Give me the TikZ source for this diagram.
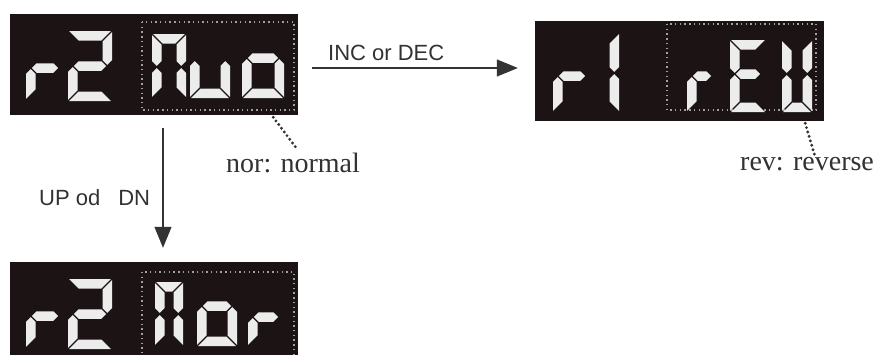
\documentclass[tikz,border=0pt]{standalone}
\usepackage{fontspec}
\setmainfont{Liberation Serif}
\newfontfamily\sansf{Liberation Sans}
\usetikzlibrary{arrows.meta}
\definecolor{boxbg}{RGB}{28,20,20}
\definecolor{segcol}{RGB}{236,236,236}
\definecolor{dotcol}{RGB}{160,160,160}
\definecolor{txt}{RGB}{50,50,50}
\def\T{9.5}\def\G{1.2}
\newcommand\Sega{\fill[seg] (\G,0) -- (\W-\G,0) -- (\W-\T-\G,\T) -- (\T+\G,\T) -- cycle;}
\newcommand\Segd{\fill[seg] (\G,\H) -- (\W-\G,\H) -- (\W-\T-\G,\H-\T) -- (\T+\G,\H-\T) -- cycle;}
\newcommand\Segf{\fill[seg] (0,\G) -- (\T,\T+\G) -- (\T,\M-\T/2-\G) -- (\T/2,\M-\G) -- (0,\M-\T/2-\G) -- cycle;}
\newcommand\Sege{\fill[seg] (0,\H-\G) -- (\T,\H-\T-\G) -- (\T,\M+\T/2+\G) -- (\T/2,\M+\G) -- (0,\M+\T/2+\G) -- cycle;}
\newcommand\Segb{\fill[seg] (\W,\G) -- (\W-\T,\T+\G) -- (\W-\T,\M-\T/2-\G) -- (\W-\T/2,\M-\G) -- (\W,\M-\T/2-\G) -- cycle;}
\newcommand\Segc{\fill[seg] (\W,\H-\G) -- (\W-\T,\H-\T-\G) -- (\W-\T,\M+\T/2+\G) -- (\W-\T/2,\M+\G) -- (\W,\M+\T/2+\G) -- cycle;}
\newcommand\Segg{\fill[seg] (\T/2+\G,\M) -- (\T+\G,\M-\T/2) -- (\W-\T-\G,\M-\T/2) -- (\W-\T/2-\G,\M) -- (\W-\T-\G,\M+\T/2) -- (\T+\G,\M+\T/2) -- cycle;}
\newcommand\sseg[6]{%
  \begin{scope}[shift={(#1,#2)}]
    \def\W{#3}\def\H{#4}\def\M{#5}%
    \foreach \s in {#6}{\csname Seg\s\endcsname}
  \end{scope}}
\begin{document}
\begin{tikzpicture}[x=1pt,y=-1pt,
  seg/.style={fill=segcol},
  box/.style={fill=boxbg, draw=none, inner sep=0, minimum width=288, minimum height=101},
  dotbox/.style={draw=dotcol, line width=1.4pt, dash pattern=on 1.4pt off 3.3pt},
  arr/.style={-{Triangle[length=21pt,width=17pt]}, line width=1.1pt, draw=black!80, fill=black!80},
  lead/.style={draw=black!80, line width=3.2pt, line cap=round, dash pattern=on 0pt off 4.6pt},
  sanslab/.style={anchor=base west, inner sep=0, font=\sansf\fontsize{22}{26}\selectfont, text=txt},
  seriflab/.style={anchor=base west, inner sep=0, font=\fontsize{28}{32}\selectfont, text=txt}]
\useasboundingbox (0,0) rectangle (874,354);
\clip (0,0) rectangle (874,354);
\fill[white] (0,0) rectangle (874,354);
% boxes
\node[box] (b1) at (154,64.5) {};
\node[box, minimum width=289, minimum height=100] (b2) at (679.5,71) {};
\node[box] (b3) at (154,312.5) {};
% dotted inner frames
\draw[dotbox] (142,22) rectangle (294,110);
\draw[dotbox] (667,24) rectangle (816,110);
\draw[dotbox] (142,272) rectangle (294,362);
% box 1 : r2 Auo
\sseg{26}{32}{38}{68}{36}{e,g}
\sseg{68}{31}{44}{70}{35}{a,b,g,e,d}
\sseg{152}{34}{34}{64}{33}{a,b,c,e,f}
\sseg{190}{34}{40}{64}{26}{c,d,e}
\sseg{242}{34}{42}{64}{24}{c,d,e,g}
% box 2 : r1 rEU
\sseg{553}{40}{38}{72}{36}{e,g}
\sseg{581}{33}{38}{79}{40}{b,c}
\sseg{687}{40}{30}{72}{36}{e,g}
\sseg{730}{40}{36}{72}{34}{a,d,e,f,g}
\sseg{782}{40}{30}{72}{34}{b,c,d,e,f}
% box 3 : r2 Aor
\sseg{26}{280}{38}{68}{36}{e,g}
\sseg{68}{279}{44}{70}{35}{a,b,g,e,d}
\sseg{155}{282}{28}{64}{32}{a,b,c,e,f}
\sseg{197}{282}{40}{64}{24}{c,d,e,g}
\sseg{248}{282}{36}{64}{35}{e,g}
% arrows
\coordinate (h1) at ([xshift=14pt,yshift=-3.5pt]b1.east);
\coordinate (h2) at ([xshift=-17pt]h1 -| b2.west);
\draw[arr] (h1) -- (h2);
\coordinate (v1) at ([xshift=9pt,yshift=-13pt]b1.south);
\coordinate (v2) at ([yshift=14pt]v1 |- b3.north);
\draw[arr] (v1) -- (v2);
% labels
\node[sanslab] (inc) at (328,60) {INC or DEC};
\node[sanslab] (updn) at (39,205) {UP od\hspace{18pt}DN};
\node[seriflab] (nor) at (226,172) {nor: normal};
\node[seriflab] (rev) at (740,170) {rev: reverse};
% leaders
\coordinate (l1a) at ([xshift=-25pt,yshift=-2pt]b1.south east);
\draw[lead] (l1a) -- ([xshift=3.5pt,yshift=4pt]nor.north);
\coordinate (l2a) at ([xshift=-19pt,yshift=-2pt]b2.south east);
\draw[lead] (l2a) -- ([xshift=8pt]rev.north);
\end{tikzpicture}
\end{document}
